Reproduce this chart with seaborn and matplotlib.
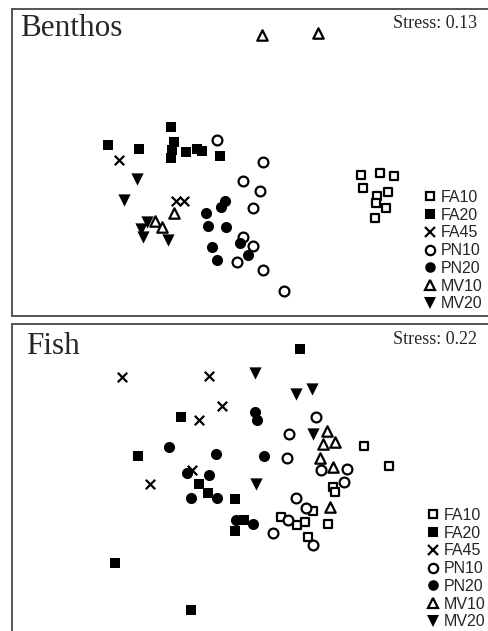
import matplotlib
matplotlib.use("Agg")
import matplotlib.pyplot as plt
import seaborn as sns
import pandas as pd
from matplotlib.lines import Line2D

sns.set_style("white")

# NMDS ordination scores
groups = ["FA10", "FA20", "FA45", "PN10", "PN20", "MV10", "MV20"]

# Benthos
ben_fa10_x = [1.11, 1.30, 1.44, 1.13, 1.38, 1.27, 1.26, 1.36, 1.25]
ben_fa10_y = [-0.10, -0.08, -0.11, -0.23, -0.27, -0.31, -0.38, -0.43, -0.53]
ben_fa20_x = [-1.42, -1.11, -0.79, -0.76, -0.78, -0.79, -0.64, -0.53, -0.48, -0.30]
ben_fa20_y = [0.20, 0.16, 0.38, 0.23, 0.15, 0.07, 0.13, 0.16, 0.14, 0.09]
ben_fa45_x = [-1.31, -0.74, -0.66]
ben_fa45_y = [0.05, -0.36, -0.36]
ben_pn10_x = [-0.33, 0.13, -0.07, 0.10, 0.03, -0.07, 0.03, -0.13, 0.13, 0.34]
ben_pn10_y = [0.25, 0.03, -0.16, -0.26, -0.43, -0.72, -0.81, -0.97, -1.05, -1.26]
ben_pn20_x = [-0.25, -0.29, -0.44, -0.42, -0.24, -0.38, -0.33, -0.10, -0.02]
ben_pn20_y = [-0.36, -0.42, -0.48, -0.61, -0.62, -0.82, -0.95, -0.78, -0.90]
ben_mv10_x = [0.12, 0.68, -0.76, -0.95, -0.88]
ben_mv10_y = [1.30, 1.32, -0.48, -0.56, -0.62]
ben_mv20_x = [-1.13, -1.26, -1.03, -1.09, -1.07, -0.82]
ben_mv20_y = [-0.14, -0.35, -0.57, -0.64, -0.72, -0.75]

# Fish
fish_fa10_x = [1.14, 1.39, 0.83, 0.85, 0.63, 0.31, 0.47, 0.55, 0.78, 0.58]
fish_fa10_y = [0.24, 0.04, -0.17, -0.22, -0.41, -0.47, -0.55, -0.52, -0.54, -0.67]
fish_fa20_x = [0.50, -0.69, -1.12, -0.51, -0.42, -0.15, -0.06, -0.15, -1.35, -0.59]
fish_fa20_y = [1.21, 0.53, 0.14, -0.14, -0.23, -0.29, -0.50, -0.61, -0.93, -1.40]
fish_fa45_x = [-1.28, -0.41, -0.28, -0.51, -1.00, -0.58]
fish_fa45_y = [0.93, 0.94, 0.64, 0.50, -0.14, 0.00]
fish_pn10_x = [0.66, 0.39, 0.37, 0.71, 0.97, 0.94, 0.46, 0.56, 0.38, 0.23, 0.63]
fish_pn10_y = [0.53, 0.36, 0.12, 0.00, 0.01, -0.12, -0.28, -0.38, -0.50, -0.63, -0.75]
fish_pn20_x = [-0.81, -0.34, -0.63, -0.41, -0.59, -0.33, -0.14, 0.03, 0.05, 0.07, 0.14]
fish_pn20_y = [0.23, 0.16, -0.03, -0.05, -0.28, -0.28, -0.50, -0.54, 0.58, 0.50, 0.14]
fish_mv10_x = [0.77, 0.73, 0.85, 0.70, 0.83, 0.80]
fish_mv10_y = [0.39, 0.26, 0.28, 0.12, 0.03, -0.37]
fish_mv20_x = [0.05, 0.46, 0.62, 0.63, 0.06]
fish_mv20_y = [0.97, 0.76, 0.81, 0.36, -0.14]


def to_frame(xs, ys):
    rows = []
    for g, x, y in zip(groups, xs, ys):
        rows += [{"group": g, "NMDS1": a, "NMDS2": b} for a, b in zip(x, y)]
    return pd.DataFrame(rows)


benthos = to_frame(
    [ben_fa10_x, ben_fa20_x, ben_fa45_x, ben_pn10_x, ben_pn20_x, ben_mv10_x, ben_mv20_x],
    [ben_fa10_y, ben_fa20_y, ben_fa45_y, ben_pn10_y, ben_pn20_y, ben_mv10_y, ben_mv20_y],
)
fish = to_frame(
    [fish_fa10_x, fish_fa20_x, fish_fa45_x, fish_pn10_x, fish_pn20_x, fish_mv10_x, fish_mv20_x],
    [fish_fa10_y, fish_fa20_y, fish_fa45_y, fish_pn10_y, fish_pn20_y, fish_mv10_y, fish_mv20_y],
)

# marker, face colour, size, edge width
style = {
    "FA10": ("s", "white", 34, 1.6),
    "FA20": ("s", "black", 62, 0),
    "FA45": ("x", "black", 46, 1.6),
    "PN10": ("o", "white", 50, 1.6),
    "PN20": ("o", "black", 64, 0),
    "MV10": ("^", "white", 56, 1.6),
    "MV20": ("v", "black", 78, 0),
}

serif = ["Liberation Serif", "DejaVu Serif"]
sans = ["Liberation Sans", "DejaVu Sans"]

fig = plt.figure(figsize=(4.88, 6.31), dpi=100)
ax1 = fig.add_axes([12 / 488, 1 - 316 / 631, 1.02 - 12 / 488, 307 / 631])
ax2 = fig.add_axes([12 / 488, -0.02, 1.02 - 12 / 488, 0.02 + 1 - 324 / 631])


def draw(ax, df, title, stress, ylim, tx, tbase, sbase, leg_anchor):
    for g in groups:
        m, fc, s, lw = style[g]
        sub = df[df["group"] == g]
        if m == "x":
            sns.scatterplot(data=sub, x="NMDS1", y="NMDS2", ax=ax, marker=m,
                            color="black", s=s, linewidth=lw, zorder=3)
        else:
            sns.scatterplot(data=sub, x="NMDS1", y="NMDS2", ax=ax, marker=m,
                            facecolor=fc, edgecolor="black", s=s,
                            linewidth=lw, zorder=3)
    ax.set_xlim(-2.38, 2.478)
    ax.set_ylim(*ylim)
    ax.set_xticks([])
    ax.set_yticks([])
    ax.set_xlabel("")
    ax.set_ylabel("")
    for sp in ax.spines.values():
        sp.set_color("#555555")
        sp.set_linewidth(1.4)

    fig.text(tx / 488, 1 - tbase / 631, title, family=serif, fontsize=22.5,
             va="baseline", ha="left")
    fig.text(477 / 488, 1 - sbase / 631, stress, family=serif, fontsize=13,
             va="baseline", ha="right")

    handles = []
    for g in groups:
        m, fc, s, lw = style[g]
        if m == "x":
            h = Line2D([], [], ls="none", marker=m, color="black", markersize=7,
                       markeredgewidth=1.6)
        else:
            h = Line2D([], [], ls="none", marker=m, markerfacecolor=fc,
                       markeredgecolor="black", markersize=s ** 0.5 * 0.95,
                       markeredgewidth=max(lw, 0.01))
        handles.append(h)
    ax.legend(handles, groups, loc="upper left",
              bbox_to_anchor=(leg_anchor[0] / 488, 1 - leg_anchor[1] / 631),
              bbox_transform=fig.transFigure, frameon=False,
              prop={"family": sans, "size": 11.5}, borderpad=0,
              handlelength=0.8, handletextpad=0.25, labelspacing=0.17,
              borderaxespad=0)


draw(ax1, benthos, "Benthos", "Stress: 0.13", (-1.51, 1.56), 20, 36, 28, (424, 190))
draw(ax2, fish, "Fish", "Stress: 0.22", (-1.736, 1.46), 26, 354, 344, (427, 508))

fig.savefig("out.png", dpi=100)
